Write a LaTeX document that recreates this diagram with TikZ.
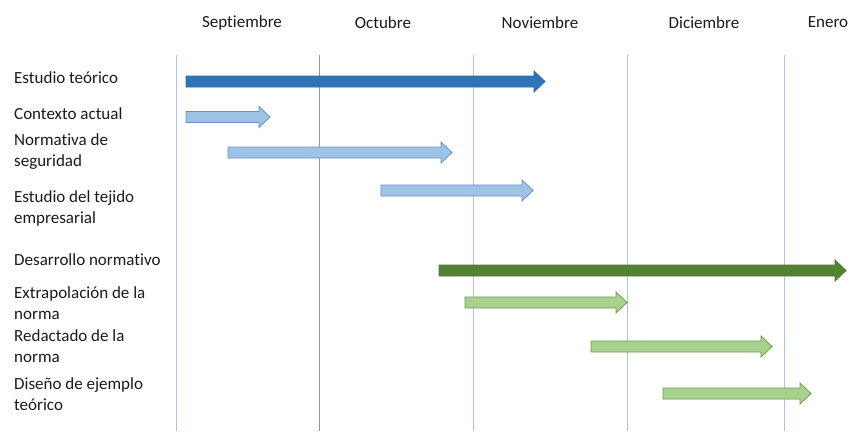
\documentclass[tikz,border=0pt]{standalone}
\usepackage{fontspec}
\setmainfont{Carlito}[Ligatures=NoCommon]
\begin{document}
\begin{tikzpicture}[x=1pt,y=-1pt,
  grid/.style={draw=gridc, line width=0.9pt},
  gridlight/.style={draw=gridl, line width=0.9pt},
  lbl/.style={anchor=west, inner sep=0pt, align=left, font=\fontsize{17}{21}\selectfont, text=txt},
  mon/.style={anchor=center, inner sep=0pt, font=\fontsize{17}{18}\selectfont, text=txt},
  darkblue/.style={fill=dblue, draw=dblueb, line width=0.8pt},
  lightblue/.style={fill=lblue, draw=lblueb, line width=0.8pt},
  darkgreen/.style={fill=dgreen, draw=dgreenb, line width=0.8pt},
  lightgreen/.style={fill=lgreen, draw=lgreenb, line width=0.8pt}]
\definecolor{gridc}{HTML}{7F97C8}
\definecolor{gridl}{HTML}{A9C0E8}
\definecolor{txt}{HTML}{1A1A1A}
\definecolor{dblue}{HTML}{2E75B6}
\definecolor{dblueb}{HTML}{2F6BA6}
\definecolor{lblue}{HTML}{9DC3E6}
\definecolor{lblueb}{HTML}{6E8FC4}
\definecolor{dgreen}{HTML}{548235}
\definecolor{dgreenb}{HTML}{4D7731}
\definecolor{lgreen}{HTML}{A9D18E}
\definecolor{lgreenb}{HTML}{6E9A50}
\newcommand{\garrow}[4]{% style, x start, x tip, y center
  \path[#1] (#2,#4-5.5) -- (#3-11,#4-5.5) -- (#3-11,#4-10.5) -- (#3,#4)
    -- (#3-11,#4+10.5) -- (#3-11,#4+5.5) -- (#2,#4+5.5) -- cycle;}
\useasboundingbox (0,0) rectangle (850,431);
% grid lines
\draw[gridlight] (176,55) -- (176,431);
\draw[grid] (319,55) -- (319,431);
\draw[gridlight] (473,55) -- (473,431);
\draw[gridlight] (627,55) -- (627,431);
\draw[gridlight] (784,55) -- (784,431);
% months
\node[mon] (m1) at (242,22.5) {Septiembre};
\node[mon] (m2) at (383,22.5) {Octubre};
\node[mon] (m3) at (540,22.5) {Noviembre};
\node[mon] (m4) at (704,22.5) {Diciembre};
\node[mon] (m5) at (828,22.5) {Enero};
% labels
\node[lbl] (l1) at (14,78) {Estudio teórico};
\node[lbl] (l2) at (14,114) {Contexto actual};
\node[lbl] (l3) at (14,152) {Normativa de\\seguridad};
\node[lbl] (l4) at (14,208) {Estudio del tejido\\empresarial};
\node[lbl] (l5) at (14,260) {Desarrollo normativo};
\node[lbl] (l6) at (14,303.5) {Extrapolación de la\\norma};
\node[lbl] (l7) at (14,346) {Redactado de la\\norma};
\node[lbl] (l8) at (14,394) {Diseño de ejemplo\\teórico};
% bars
\garrow{darkblue}{186}{545}{81.5}
\garrow{lightblue}{186}{270}{117}
\garrow{lightblue}{228}{452}{152.5}
\garrow{lightblue}{381}{533}{190.5}
\garrow{darkgreen}{439}{846}{270.5}
\garrow{lightgreen}{465}{627}{302.5}
\garrow{lightgreen}{591}{772}{346.5}
\garrow{lightgreen}{663}{811}{393.5}
\end{tikzpicture}
\end{document}
